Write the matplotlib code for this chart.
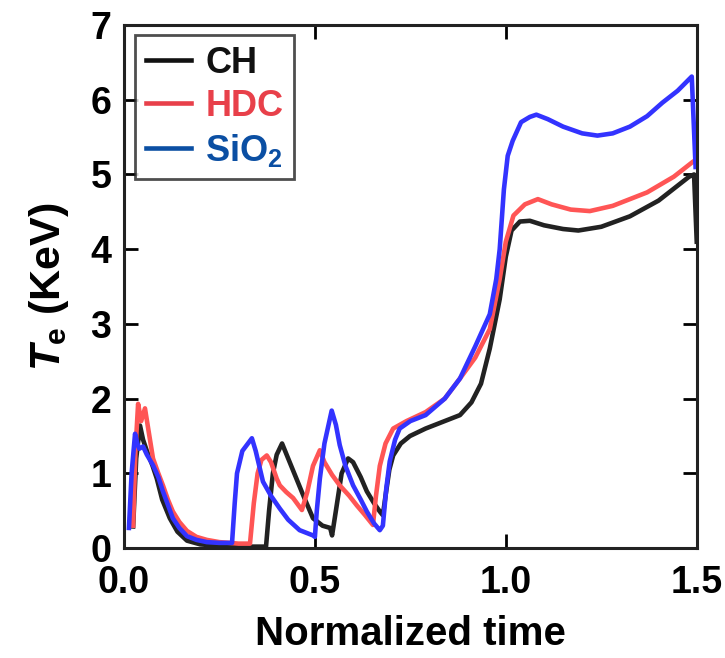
import matplotlib
matplotlib.use("Agg")
import matplotlib.pyplot as plt
from matplotlib.lines import Line2D

# ===== DATA =====
ch_t = [0.024, 0.032, 0.042, 0.05, 0.06, 0.075, 0.086, 0.10, 0.12, 0.14, 0.165, 0.2, 0.25,
        0.30, 0.35, 0.372, 0.38, 0.39, 0.40, 0.414, 0.43, 0.45, 0.47, 0.495, 0.52, 0.54,
        0.545, 0.555, 0.57, 0.587, 0.60, 0.62, 0.636, 0.655, 0.67, 0.678, 0.685, 0.695,
        0.705, 0.725, 0.749, 0.79, 0.835, 0.88, 0.91, 0.935, 0.958, 0.984, 1.0, 1.015,
        1.037, 1.063, 1.10, 1.15, 1.19, 1.25, 1.325, 1.40, 1.48, 1.493, 1.5]
ch_te = [0.29, 1.2, 1.64, 1.45, 1.3, 1.1, 0.93, 0.65, 0.4, 0.22, 0.1, 0.05, 0.03,
         0.02, 0.02, 0.02, 0.5, 1.0, 1.25, 1.40, 1.2, 0.95, 0.7, 0.4, 0.3, 0.27,
         0.17, 0.5, 1.0, 1.2, 1.15, 0.95, 0.76, 0.6, 0.49, 0.44, 0.7, 1.05,
         1.24, 1.4, 1.5, 1.6, 1.69, 1.78, 1.95, 2.2, 2.67, 3.33, 3.9, 4.25,
         4.37, 4.38, 4.32, 4.27, 4.25, 4.3, 4.44, 4.65, 4.97, 5.0, 4.1]

hdc_t = [0.024, 0.03, 0.037, 0.045, 0.055, 0.065, 0.076, 0.09, 0.102, 0.115, 0.128, 0.145,
         0.165, 0.19, 0.217, 0.25, 0.277, 0.30, 0.33, 0.34, 0.35, 0.36, 0.374, 0.385, 0.40,
         0.408, 0.425, 0.443, 0.466, 0.48, 0.495, 0.513, 0.525, 0.545, 0.565, 0.59, 0.61,
         0.63, 0.652, 0.66, 0.67, 0.685, 0.705, 0.74, 0.79, 0.84, 0.88, 0.92, 0.958, 0.984,
         1.0, 1.02, 1.05, 1.084, 1.12, 1.17, 1.22, 1.28, 1.37, 1.44, 1.49, 1.5]
hdc_te = [0.3, 1.3, 1.93, 1.7, 1.87, 1.55, 1.2, 1.0, 0.84, 0.65, 0.49, 0.35,
          0.23, 0.15, 0.11, 0.08, 0.07, 0.06, 0.06, 0.6, 1.0, 1.18, 1.24, 1.15, 0.93,
          0.84, 0.75, 0.67, 0.51, 0.75, 1.1, 1.31, 1.15, 0.98, 0.84, 0.7, 0.57,
          0.45, 0.31, 0.7, 1.1, 1.4, 1.6, 1.7, 1.82, 2.0, 2.27, 2.55, 2.93, 3.6,
          4.1, 4.45, 4.6, 4.67, 4.6, 4.53, 4.51, 4.58, 4.76, 4.97, 5.17, 5.2]

sio2_t = [0.013, 0.02, 0.029, 0.035, 0.04, 0.05, 0.06, 0.076, 0.09, 0.102, 0.115, 0.128,
          0.145, 0.165, 0.19, 0.217, 0.25, 0.283, 0.29, 0.296, 0.31, 0.335, 0.345, 0.364,
          0.385, 0.408, 0.43, 0.46, 0.495, 0.50, 0.505, 0.513, 0.525, 0.544, 0.555, 0.565,
          0.58, 0.60, 0.62, 0.636, 0.655, 0.67, 0.678, 0.687, 0.696, 0.71, 0.722, 0.75,
          0.79, 0.84, 0.88, 0.92, 0.958, 0.975, 0.984, 0.995, 1.005, 1.018, 1.04, 1.063,
          1.08, 1.11, 1.15, 1.2, 1.24, 1.28, 1.325, 1.37, 1.41, 1.45, 1.487, 1.497]
sio2_te = [0.27, 1.0, 1.53, 1.4, 1.33, 1.36, 1.25, 1.11, 0.95, 0.76, 0.58, 0.4,
           0.27, 0.16, 0.11, 0.08, 0.07, 0.07, 0.6, 1.0, 1.3, 1.47, 1.3, 0.89,
           0.7, 0.53, 0.38, 0.24, 0.17, 0.15, 0.5, 0.93, 1.4, 1.84, 1.65, 1.38,
           1.1, 0.84, 0.65, 0.49, 0.33, 0.24, 0.3, 0.8, 1.16, 1.45, 1.6, 1.7,
           1.78, 2.0, 2.27, 2.7, 3.13, 3.6, 4.0, 4.8, 5.25, 5.45, 5.7, 5.77,
           5.8, 5.74, 5.64, 5.55, 5.52, 5.55, 5.64, 5.78, 5.96, 6.12, 6.31, 5.1]

labels = ["CH", "HDC", "SiO$_\\mathrm{2}$"]
line_colors = ["#222222", "#ff5555", "#3333ff"]
legend_colors = ["#111111", "#e8404a", "#0b4fa3"]

# ===== STYLE =====
plt.rcParams["font.family"] = ["Liberation Sans", "DejaVu Sans"]
plt.rcParams["font.weight"] = "bold"
plt.rcParams["mathtext.fontset"] = "custom"
plt.rcParams["mathtext.rm"] = "Liberation Sans:bold"
plt.rcParams["mathtext.bf"] = "Liberation Sans:bold"
plt.rcParams["mathtext.it"] = "Liberation Sans:bold:italic"

fig = plt.figure(figsize=(7.25, 6.58), dpi=100)
ax = fig.add_axes([0.171, 0.167, 0.79, 0.795])

for t, te, c in zip([ch_t, hdc_t, sio2_t], [ch_te, hdc_te, sio2_te], line_colors):
    ax.plot(t, te, color=c, lw=3.3, solid_joinstyle="round")

ax.set_xlim(0, 1.5)
ax.set_ylim(0, 7)
ax.set_xticks([0.0, 0.5, 1.0, 1.5])
ax.set_xticklabels(["0.0", "0.5", "1.0", "1.5"])
ax.set_yticks(range(8))
ax.tick_params(direction="in", top=True, right=True, length=10, width=2,
               labelsize=27)
ax.tick_params(axis="x", pad=12)
ax.tick_params(axis="y", pad=9)
for s in ax.spines.values():
    s.set_linewidth(2.2)
    s.set_color("#222222")

ax.set_xlabel("Normalized time", fontsize=29, fontweight="bold", labelpad=10)
ax.set_ylabel("$T_{\\mathrm{e}}$ (KeV)", fontsize=31, fontweight="bold", labelpad=14)

handles = [Line2D([0], [0], color=c, lw=3.3) for c in legend_colors]
leg = ax.legend(handles, labels, loc="upper left", fontsize=26, frameon=True,
                fancybox=False, edgecolor="#222222", handlelength=1.25,
                handletextpad=0.4, labelspacing=0.22, borderpad=0.3,
                borderaxespad=0, bbox_to_anchor=(0.019, 0.981))
leg.get_frame().set_linewidth(2)
for txt, c in zip(leg.get_texts(), legend_colors):
    txt.set_color(c)
    txt.set_fontweight("bold")

fig.savefig("out.png", dpi=100)
